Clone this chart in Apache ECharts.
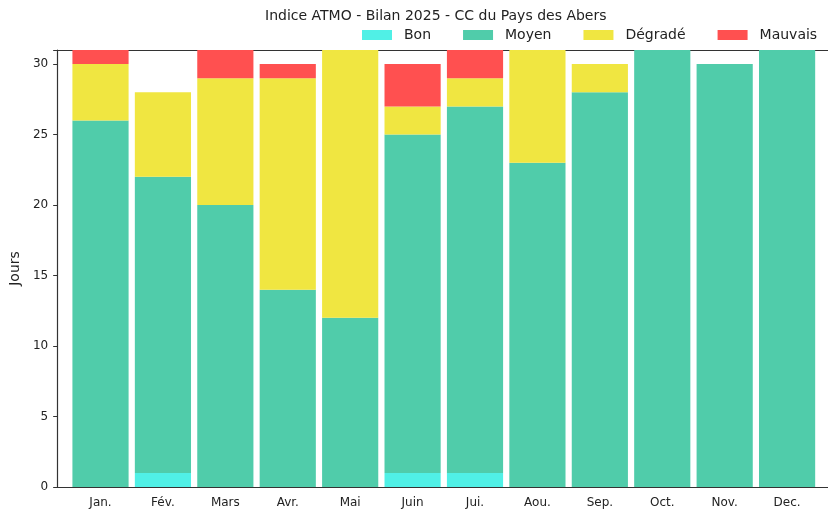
<!DOCTYPE html>
<html>
<head>
<meta charset="utf-8">
<script src="https://cdn.jsdelivr.net/npm/echarts@6/dist/echarts.min.js"></script>
<style>html,body{margin:0;padding:0;background:#fff}#c{width:828px;height:509px}</style>
</head>
<body>
<div id="c"></div>
<script>
var months = ['Jan.', 'Fév.', 'Mars', 'Avr.', 'Mai', 'Juin', 'Jui.', 'Aou.', 'Sep.', 'Oct.', 'Nov.', 'Dec.'];
var bon = [0, 1, 0, 0, 0, 1, 1, 0, 0, 0, 0, 0];
var moyen = [26, 21, 20, 14, 12, 24, 26, 23, 28, 31, 30, 31];
var degrade = [4, 6, 9, 15, 19, 2, 2, 8, 2, 0, 0, 0];
var mauvais = [1, 0, 2, 1, 0, 3, 2, 0, 0, 0, 0, 0];
var yTicks = [0, 5, 10, 15, 20, 25, 30];

var FONT = 'DejaVu Sans';
var chart = echarts.init(document.getElementById('c'), null, {renderer: 'canvas'});

function mk(name, data, color) {
  return {
    name: name, type: 'bar', stack: 'total', data: data,
    xAxisIndex: 1, yAxisIndex: 1,
    barCategoryGap: '10%',
    itemStyle: {color: color},
    emphasis: {disabled: true}
  };
}
var spine = {show: true, lineStyle: {color: '#333', width: 1.2}};

chart.setOption({
  animation: false,
  textStyle: {fontFamily: FONT},
  title: {
    text: 'Indice ATMO - Bilan 2025 - CC du Pays des Abers',
    left: 265, top: 9, padding: 0,
    textStyle: {fontFamily: FONT, fontSize: 14, fontWeight: 'normal', color: '#222'}
  },
  legend: {
    left: 362, top: 28, padding: 0,
    icon: 'rect', itemWidth: 30, itemHeight: 10, itemGap: 32,
    textStyle: {fontFamily: FONT, fontSize: 14, color: '#222', padding: [0, 0, 0, 7]},
    data: ['Bon', 'Moyen', 'Dégradé', 'Mauvais']
  },
  grid: [
    {left: 57, top: 50, width: 773, height: 437},
    {left: 69.3, top: 50, width: 749, height: 437}
  ],
  xAxis: [
    {gridIndex: 0, type: 'value', min: 0, max: 1, position: 'bottom',
      axisLine: spine, axisTick: {show: false}, axisLabel: {show: false}, splitLine: {show: false}},
    {gridIndex: 1, type: 'category', data: months,
      axisLine: {show: false},
      axisTick: {show: false},
      axisLabel: {fontFamily: FONT, fontSize: 12, color: '#222', margin: 10}},
    {gridIndex: 0, type: 'value', min: 0, max: 1, position: 'top',
      axisLine: spine, axisTick: {show: false}, axisLabel: {show: false}, splitLine: {show: false}}
  ],
  yAxis: [
    {gridIndex: 0, type: 'value', min: 0, max: 31, interval: 5,
      name: 'Jours', nameLocation: 'middle', nameGap: 33,
      nameTextStyle: {fontFamily: FONT, fontSize: 14, color: '#222'},
      axisLine: spine,
      axisTick: {show: true, length: 4, lineStyle: {color: '#333'}},
      splitLine: {show: false},
      axisLabel: {fontFamily: FONT, fontSize: 12, color: '#222', margin: 9,
        formatter: function (v) { return yTicks.indexOf(v) >= 0 ? String(v) : ''; }}},
    {gridIndex: 1, type: 'value', min: 0, max: 31, show: false, splitLine: {show: false}}
  ],
  series: [
    mk('Bon', bon, '#50F0E6'),
    mk('Moyen', moyen, '#50CCAA'),
    mk('Dégradé', degrade, '#F0E641'),
    mk('Mauvais', mauvais, '#FF5050')
  ]
});
</script>
</body>
</html>
